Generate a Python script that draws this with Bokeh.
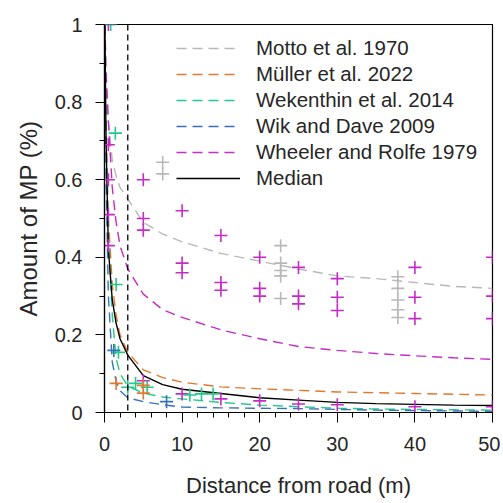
from bokeh.plotting import figure
from bokeh.models import Range1d, FixedTicker, Legend, LegendItem, Span, Title
from bokeh.embed import file_html
from bokeh.resources import INLINE

# ---------------- data ----------------
dist = [0.05, 0.2, 0.5, 1, 1.5, 2, 3, 5, 7.5, 10, 15, 20, 25, 30, 35, 40, 45, 50]

motto_fit = [1.0, 0.86, 0.75, 0.65, 0.61, 0.58, 0.55, 0.49, 0.46, 0.44, 0.41, 0.39, 0.37, 0.352, 0.345, 0.335, 0.325, 0.32]
muller_fit = [1.0, 0.75, 0.5, 0.33, 0.25, 0.2, 0.155, 0.11, 0.09, 0.078, 0.066, 0.061, 0.057, 0.053, 0.051, 0.049, 0.047, 0.045]
wek_fit = [1.0, 0.7, 0.45, 0.25, 0.14, 0.1, 0.068, 0.05, 0.04, 0.035, 0.026, 0.019, 0.015, 0.011, 0.009, 0.008, 0.007, 0.006]
wik_fit = [1.0, 0.6, 0.3, 0.13, 0.08, 0.056, 0.038, 0.028, 0.02, 0.014, 0.012, 0.011, 0.01, 0.008, 0.006, 0.005, 0.004, 0.003]
wheeler_fit = [1.0, 0.88, 0.75, 0.58, 0.49, 0.43, 0.37, 0.305, 0.265, 0.245, 0.213, 0.19, 0.17, 0.16, 0.152, 0.146, 0.141, 0.137]
median_fit = [1.0, 0.7, 0.42, 0.29, 0.23, 0.19, 0.148, 0.095, 0.072, 0.06, 0.049, 0.038, 0.032, 0.026, 0.023, 0.021, 0.019, 0.018]

motto_x = [7.5, 7.5, 22.7, 22.7, 22.7, 22.7, 22.7, 37.8, 37.8, 37.8, 37.8, 37.8]
motto_y = [0.645, 0.615, 0.43, 0.385, 0.366, 0.352, 0.294, 0.35, 0.32, 0.29, 0.265, 0.245]

wheeler_x = [0.5, 0.5, 0.5, 0.5, 0.5, 5, 5, 5, 10, 10, 10, 15, 15, 15, 20, 20, 20,
             25, 25, 25, 30, 30, 30, 40, 40, 40, 50, 50, 50,
             5, 10, 15, 20, 25, 30, 40, 50]
wheeler_y = [1.0, 0.69, 0.6, 0.51, 0.43, 0.6, 0.5, 0.47, 0.52, 0.385, 0.36, 0.456, 0.335, 0.315, 0.4, 0.32, 0.3,
             0.374, 0.3, 0.28, 0.345, 0.297, 0.263, 0.374, 0.297, 0.242, 0.4, 0.3, 0.242,
             0.082, 0.048, 0.035, 0.03, 0.022, 0.02, 0.015, 0.015]

wek_x = [0.8, 1.4, 1.5, 1.8, 3, 4, 5.5, 11, 12.5, 14]
wek_y = [1.0, 0.72, 0.33, 0.155, 0.065, 0.075, 0.065, 0.045, 0.048, 0.048]

muller_x = [1.5, 5, 5]
muller_y = [0.075, 0.07, 0.05]

wik_x = [1.2, 8]
wik_y = [0.16, 0.028]

x_ticks = [0, 10, 20, 30, 40, 50]
x_minor = [2, 4, 6, 8, 12, 14, 16, 18, 22, 24, 26, 28, 32, 34, 36, 38, 42, 44, 46, 48]
y_ticks = [0, 0.2, 0.4, 0.6, 0.8, 1]
y_minor = [0.1, 0.3, 0.5, 0.7, 0.9]
y_tick_labels = ["0", "0.2", "0.4", "0.6", "0.8", "1"]
cutoff = 3

names = ["Motto et al. 1970", "Müller et al. 2022", "Wekenthin et al. 2014",
         "Wik and Dave 2009", "Wheeler and Rolfe 1979", "Median"]
colors = ["#b8b8b8", "#e0782e", "#22c98a", "#3a72b8", "#c52cc5", "#000000"]

FONT = "Liberation Sans"
TXT = "#262626"

p = figure(width=500, height=500, output_backend="svg", toolbar_location=None,
           x_range=Range1d(0, 50), y_range=Range1d(0, 1),
           min_border_left=104, min_border_right=8, min_border_top=24, min_border_bottom=88)
p.xgrid.visible = False
p.ygrid.visible = False
p.outline_line_color = "black"
p.outline_line_width = 1.2
p.background_fill_color = "white"
p.border_fill_color = "white"

for ax in (p.xaxis[0], p.yaxis[0]):
    ax.axis_line_color = "black"
    ax.axis_line_width = 1.2
    ax.major_tick_line_color = "black"
    ax.minor_tick_line_color = "black"
    ax.major_tick_in = 0
    ax.minor_tick_in = 0
    ax.major_label_text_font = FONT
    ax.major_label_text_color = TXT
    ax.major_label_text_font_size = "20px"
    ax.axis_label_text_font = FONT
    ax.axis_label_text_color = TXT
    ax.axis_label_text_font_style = "normal"

p.xaxis.ticker = FixedTicker(ticks=x_ticks, minor_ticks=x_minor)
p.yaxis.ticker = FixedTicker(ticks=y_ticks, minor_ticks=y_minor)
p.yaxis.major_label_overrides = {t: l for t, l in zip(y_ticks, y_tick_labels)}
p.xaxis.major_tick_out = 10
p.xaxis.minor_tick_out = 5
p.yaxis.major_tick_out = 9
p.yaxis.minor_tick_out = 5
p.xaxis.major_label_standoff = 14
p.yaxis.major_label_standoff = 13
p.xaxis.axis_label = "Distance from road (m)"
p.xaxis.axis_label_text_font_size = "22px"
p.xaxis.axis_label_standoff = 19

ytitle = Title(text="Amount of MP (%)", align="center", offset=24, standoff=20,
               text_font=FONT, text_font_size="24px", text_color=TXT,
               text_font_style="normal")
p.add_layout(ytitle, "left")

fits = [motto_fit, muller_fit, wek_fit, wik_fit, wheeler_fit, median_fit]
renderers = []
for i, (fit, c) in enumerate(zip(fits, colors)):
    if i == 5:
        r = p.line(dist, fit, line_color=c, line_width=1.4)
    else:
        r = p.line(dist, fit, line_color=c, line_width=1.4, line_dash="10 6")
    renderers.append(r)

p.add_layout(Span(location=cutoff, dimension="height", line_color="black",
                  line_width=1.3, line_dash="6 4"))

for xs, ys, c in [(motto_x, motto_y, colors[0]), (wheeler_x, wheeler_y, colors[4]),
                  (wek_x, wek_y, colors[2]), (muller_x, muller_y, colors[1]),
                  (wik_x, wik_y, colors[3])]:
    p.scatter(xs, ys, marker="cross", size=13, line_color=c, line_width=1.6)

legend = Legend(items=[LegendItem(label=n, renderers=[r]) for n, r in zip(names, renderers)],
                location=(72, 222), padding=0, margin=0, spacing=2,
                glyph_width=64, glyph_height=20, label_height=20, label_standoff=16,
                label_text_font=FONT, label_text_font_size="20.5px", label_text_color=TXT,
                border_line_color=None, background_fill_alpha=0)
p.add_layout(legend)

open("out.html", "w").write(file_html(p, INLINE))
